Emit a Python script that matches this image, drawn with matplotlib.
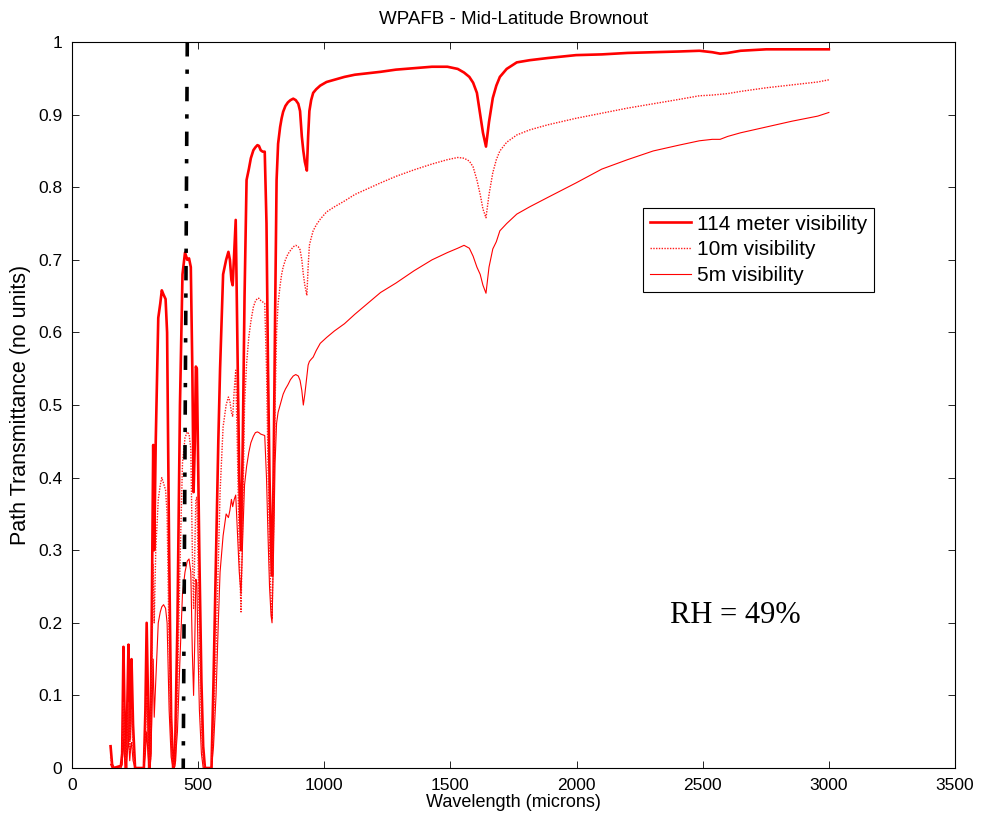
import matplotlib
matplotlib.use("Agg")
import matplotlib.pyplot as plt

plt.rcParams['font.family'] = ['Liberation Sans', 'DejaVu Sans']

title = "WPAFB - Mid-Latitude Brownout"
xlabel = "Wavelength (microns)"
ylabel = "Path Transmittance (no units)"
series_labels = ["114 meter visibility", "10m visibility", "5m visibility"]
annotation = "RH = 49%"

x_ticks = [0, 500, 1000, 1500, 2000, 2500, 3000, 3500]
y_ticks = [0, 0.1, 0.2, 0.3, 0.4, 0.5, 0.6, 0.7, 0.8, 0.9, 1.0]
y_tick_labels = ["0", "0.1", "0.2", "0.3", "0.4", "0.5", "0.6", "0.7", "0.8", "0.9", "1"]

wavelength = [
    153, 159, 165, 194, 199, 204, 209, 214, 219, 224,
    229, 233, 236, 242, 250, 285, 291, 296, 301, 306,
    311, 316, 322, 326, 332, 342, 350, 356, 363, 371,
    377, 385, 393, 401, 408, 418, 428, 438, 448, 457,
    464, 471, 477, 482, 487, 491, 495, 499, 505, 513,
    520, 527, 553, 561, 571, 580, 587, 599, 611, 620,
    626, 632, 637, 643, 649, 655, 663, 670, 677, 684,
    692, 701, 709, 719, 727, 735, 741, 748, 756, 764,
    771, 777, 783, 789, 793, 799, 805, 811, 817, 825,
    831, 837, 846, 856, 866, 877, 887, 897, 904, 911,
    917, 923, 931, 936, 941, 948, 956, 968, 984, 1009,
    1040, 1080, 1121, 1172, 1223, 1284, 1356, 1427, 1488, 1529,
    1554, 1575, 1590, 1605, 1618, 1629, 1641, 1653, 1668, 1682,
    1696, 1723, 1763, 1814, 1886, 1998, 2100, 2202, 2304, 2406,
    2487, 2538, 2569, 2599, 2650, 2752, 2854, 2956, 3000,
]

vis_114m = [
    0.03, 0.005, 0.0, 0.003, 0.02, 0.167, 0.06, 0.0, 0.08, 0.17,
    0.04, 0.12, 0.15, 0.06, 0.0, 0.0, 0.08, 0.2, 0.1, 0.0,
    0.02, 0.2, 0.445, 0.3, 0.45, 0.62, 0.64, 0.658, 0.652, 0.646,
    0.6, 0.3, 0.07, 0.0, 0.01, 0.2, 0.5, 0.68, 0.71, 0.7,
    0.702, 0.69, 0.55, 0.38, 0.45, 0.553, 0.55, 0.45, 0.29, 0.12,
    0.03, 0.0, 0.0, 0.12, 0.29, 0.45, 0.55, 0.68, 0.70, 0.711,
    0.70, 0.672, 0.665, 0.71, 0.755, 0.6, 0.4, 0.3, 0.45, 0.65,
    0.81, 0.825, 0.84, 0.851, 0.855, 0.858, 0.857, 0.851, 0.849, 0.849,
    0.75, 0.55, 0.4, 0.3, 0.265, 0.4, 0.62, 0.81, 0.86, 0.883,
    0.895, 0.904, 0.912, 0.917, 0.92, 0.922, 0.92, 0.915, 0.905, 0.87,
    0.85, 0.835, 0.823, 0.87, 0.905, 0.92, 0.93, 0.935, 0.94, 0.945,
    0.948, 0.952, 0.955, 0.957, 0.959, 0.962, 0.964, 0.966, 0.966, 0.963,
    0.958, 0.952, 0.944, 0.93, 0.9, 0.875, 0.856, 0.89, 0.923, 0.94,
    0.952, 0.963, 0.972, 0.975, 0.978, 0.982, 0.983, 0.985, 0.986, 0.987,
    0.988, 0.986, 0.984, 0.985, 0.988, 0.99, 0.99, 0.99, 0.99,
]

vis_10m = [
    0.015, 0.002, 0.0, 0.0, 0.01, 0.09, 0.03, 0.0, 0.04, 0.09,
    0.02, 0.06, 0.08, 0.03, 0.0, 0.0, 0.04, 0.1, 0.05, 0.0,
    0.01, 0.12, 0.28, 0.2, 0.3, 0.37, 0.39, 0.4, 0.392, 0.383,
    0.35, 0.17, 0.04, 0.0, 0.005, 0.1, 0.28, 0.42, 0.455, 0.463,
    0.46, 0.44, 0.3, 0.22, 0.3, 0.37, 0.373, 0.3, 0.18, 0.06,
    0.01, 0.0, 0.0, 0.06, 0.16, 0.287, 0.38, 0.47, 0.5, 0.511,
    0.505, 0.49, 0.484, 0.52, 0.548, 0.45, 0.3, 0.215, 0.35, 0.5,
    0.557, 0.594, 0.615, 0.635, 0.643, 0.647, 0.647, 0.644, 0.642, 0.64,
    0.55, 0.42, 0.3, 0.23, 0.205, 0.33, 0.5, 0.6, 0.64, 0.665,
    0.68, 0.69, 0.7, 0.708, 0.713, 0.718, 0.72, 0.718, 0.714, 0.7,
    0.68, 0.665, 0.651, 0.69, 0.72, 0.73, 0.74, 0.748, 0.756, 0.766,
    0.773, 0.781, 0.79, 0.798, 0.806, 0.815, 0.824, 0.832, 0.838, 0.841,
    0.84, 0.836, 0.828, 0.81, 0.79, 0.77, 0.758, 0.79, 0.82, 0.838,
    0.85, 0.862, 0.872, 0.879, 0.886, 0.895, 0.902, 0.909, 0.915, 0.921,
    0.926, 0.927, 0.928, 0.929, 0.932, 0.937, 0.941, 0.945, 0.948,
]

vis_5m = [
    0.005, 0.0, 0.0, 0.0, 0.005, 0.04, 0.01, 0.0, 0.02, 0.04,
    0.01, 0.03, 0.035, 0.01, 0.0, 0.0, 0.02, 0.05, 0.02, 0.0,
    0.005, 0.06, 0.15, 0.07, 0.12, 0.2, 0.215, 0.222, 0.225, 0.22,
    0.2, 0.08, 0.015, 0.0, 0.002, 0.05, 0.15, 0.24, 0.27, 0.285,
    0.288, 0.27, 0.16, 0.1, 0.18, 0.26, 0.255, 0.17, 0.08, 0.02,
    0.0, 0.0, 0.0, 0.03, 0.1, 0.2, 0.27, 0.32, 0.35, 0.345,
    0.355, 0.37, 0.36, 0.37, 0.376, 0.33, 0.27, 0.24, 0.32, 0.39,
    0.415, 0.435, 0.448, 0.457, 0.462, 0.463, 0.462, 0.46, 0.459, 0.458,
    0.4, 0.32, 0.25, 0.21, 0.2, 0.3, 0.42, 0.475, 0.49, 0.5,
    0.508, 0.515, 0.522, 0.528, 0.535, 0.54, 0.542, 0.54, 0.534, 0.52,
    0.5, 0.515, 0.54, 0.555, 0.56, 0.563, 0.566, 0.575, 0.585, 0.593,
    0.602, 0.612, 0.625, 0.64, 0.655, 0.668, 0.685, 0.70, 0.71, 0.716,
    0.72, 0.716, 0.705, 0.69, 0.68, 0.665, 0.654, 0.69, 0.715, 0.725,
    0.74, 0.75, 0.763, 0.773, 0.786, 0.806, 0.825, 0.838, 0.85, 0.858,
    0.864, 0.866, 0.866, 0.87, 0.875, 0.883, 0.891, 0.898, 0.903,
]

marker_x = [457, 441]
marker_y = [1.0, 0.0]

fig = plt.figure(figsize=(9.82, 8.23), dpi=100)
ax = fig.add_axes([0.0733, 0.0668, 0.8992, 0.8821])

ax.plot(wavelength, vis_114m, color='#ff0000', lw=1.9, label=series_labels[0])
ax.plot(wavelength, vis_10m, color='#ff1a1a', lw=1.0, linestyle=(0, (1, 1)),
        label=series_labels[1])
ax.plot(wavelength, vis_5m, color='#ff0000', lw=0.8, label=series_labels[2])

dd, = ax.plot(marker_x, marker_y, color='black', lw=2.6, solid_capstyle='butt',
              dash_capstyle='butt')
dd.set_dashes((4.0, 3.6, 1.2, 3.6))

ax.set_xlim(0, 3500)
ax.set_ylim(0, 1)
ax.set_xticks(x_ticks)
ax.set_xticklabels([str(t) for t in x_ticks])
ax.set_yticks(y_ticks)
ax.set_yticklabels(y_tick_labels)
ax.tick_params(direction='in', length=5, width=0.6, top=True, right=True,
               labelsize=12.5)
ax.tick_params(axis='x', pad=7)
ax.tick_params(axis='y', pad=7)
for s in ax.spines.values():
    s.set_linewidth(0.8)

ax.set_title(title, fontsize=13.5, pad=13)
ax.set_xlabel(xlabel, fontsize=13, labelpad=1)
ax.set_ylabel(ylabel, fontsize=15.5, labelpad=5)

ax.text(2370, 0.21, annotation, fontsize=22, family=['Liberation Serif', 'DejaVu Serif'],
        va='center', ha='left')

leg = ax.legend(loc='upper left', bbox_to_anchor=(0.647, 0.771), borderaxespad=0,
                fancybox=False, edgecolor='black', framealpha=1, fontsize=15,
                handlelength=2.0, handletextpad=0.3, labelspacing=0.33,
                borderpad=0.3)
leg.get_frame().set_linewidth(0.8)

fig.savefig("out.png", dpi=100)
